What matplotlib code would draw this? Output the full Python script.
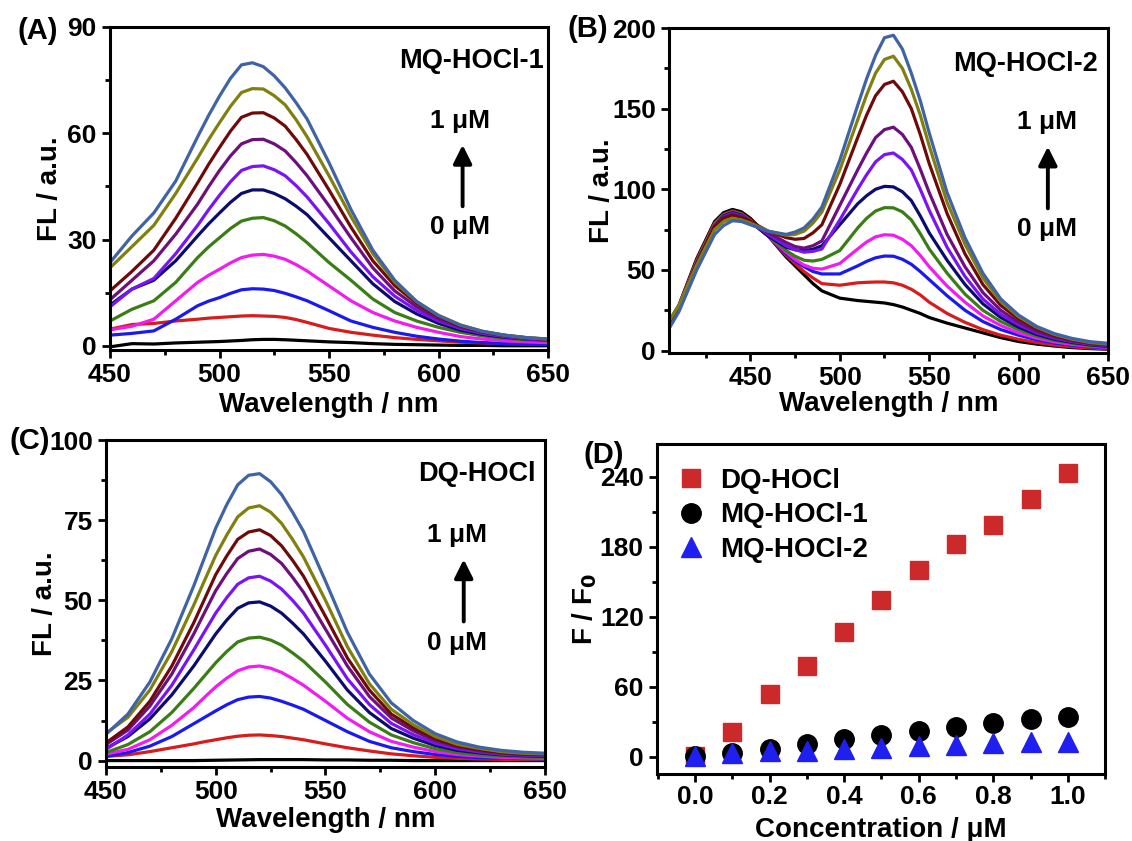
import numpy as np
import matplotlib
matplotlib.use('Agg')
import matplotlib.pyplot as plt
from matplotlib.ticker import MultipleLocator

plt.rcParams['font.family'] = ['Liberation Sans', 'DejaVu Sans']
plt.rcParams['font.weight'] = 'bold'
plt.rcParams['axes.labelweight'] = 'bold'
plt.rcParams['axes.linewidth'] = 2.2

# wavelengths (nm) for panels A and C, and for panel B
wl_ac = [450, 460, 470, 480, 490, 495, 500, 505, 510, 515, 520, 525, 530,
         535, 540, 550, 560, 570, 580, 590, 600, 610, 620, 630, 640, 650]
wl_b = [405, 410, 420, 430, 435, 440, 445, 450, 460, 470, 475, 480, 485, 490,
        500, 510, 515, 520, 525, 530, 535, 540, 545, 550,
        560, 570, 580, 590, 600, 610, 620, 630, 640, 650]

# one row per HOCl level, 0 -> 1 uM
fl_a = [
    [-0.3, 0.6, 0.5, 0.8, 1.0, 1.1, 1.2, 1.35, 1.5, 1.7, 1.8, 1.8, 1.7, 1.55, 1.4, 1.1, 0.9, 0.6, 0.4, 0.3, 0.2, 0.1, 0.1, 0.0, 0.0, 0.0],
    [4.7, 6.0, 6.3, 7.0, 7.5, 7.8, 8.0, 8.2, 8.4, 8.5, 8.4, 8.3, 8.0, 7.4, 6.6, 4.9, 3.8, 3.0, 2.3, 1.8, 1.4, 1.0, 0.8, 0.6, 0.5, 0.4],
    [3.0, 3.5, 4.2, 7.5, 11.3, 12.6, 13.6, 14.8, 15.8, 16.1, 16.0, 15.6, 14.8, 13.8, 12.7, 9.9, 7.0, 5.2, 3.8, 2.7, 1.9, 1.3, 0.9, 0.6, 0.4, 0.3],
    [4.5, 5.5, 7.5, 12.7, 17.9, 19.9, 21.6, 23.4, 24.9, 25.6, 25.8, 25.3, 24.4, 22.9, 21.1, 16.9, 12.7, 9.4, 7.0, 5.2, 3.8, 2.6, 1.9, 1.4, 1.1, 0.9],
    [7.0, 10.3, 12.7, 17.9, 24.9, 27.9, 30.5, 33.1, 35.2, 36.0, 36.2, 35.3, 33.8, 31.6, 29.1, 23.5, 18.5, 13.2, 9.4, 7.0, 5.2, 3.8, 2.8, 2.1, 1.7, 1.4],
    [11.5, 16.0, 18.5, 24.0, 31.0, 34.4, 37.5, 40.5, 43.0, 44.0, 44.0, 43.0, 41.5, 39.4, 37.0, 30.5, 24.0, 17.5, 12.5, 9.0, 6.3, 4.4, 3.2, 2.4, 1.9, 1.6],
    [11.0, 16.0, 19.0, 26.0, 34.0, 38.4, 42.5, 46.3, 49.5, 50.6, 50.8, 49.7, 48.0, 45.2, 42.0, 34.5, 26.5, 19.5, 14.0, 10.0, 7.0, 4.9, 3.5, 2.6, 2.0, 1.6],
    [13.0, 18.5, 24.0, 31.5, 40.0, 44.9, 49.5, 53.6, 57.0, 58.2, 58.3, 57.0, 55.0, 51.7, 48.0, 39.5, 30.5, 22.0, 15.5, 11.0, 7.6, 5.3, 3.8, 2.8, 2.1, 1.7],
    [15.5, 21.0, 27.0, 36.0, 46.0, 51.2, 56.0, 60.6, 64.5, 65.7, 65.8, 64.3, 62.0, 58.2, 54.0, 44.0, 33.5, 24.0, 17.0, 12.0, 8.2, 5.6, 4.0, 3.0, 2.3, 1.8],
    [22.0, 28.0, 34.0, 43.0, 53.0, 58.2, 63.0, 67.6, 71.5, 72.6, 72.5, 70.6, 68.0, 63.8, 59.0, 48.0, 36.5, 26.0, 18.0, 12.5, 8.6, 5.9, 4.1, 3.0, 2.3, 1.9],
    [23.5, 31.0, 37.5, 46.5, 59.0, 65.0, 70.5, 75.5, 79.3, 79.9, 78.8, 76.2, 72.8, 68.6, 64.0, 51.7, 38.5, 27.0, 18.5, 12.5, 8.5, 5.8, 4.1, 3.0, 2.3, 1.9],
]

fl_b = [
    [19, 28, 57, 80, 85.5, 87.5, 86, 82, 71, 58, 52.5, 47, 41.5, 37, 32.5, 31, 30.5, 30, 29.5, 28.5, 27, 25, 23, 20.5, 17, 14, 11, 8, 5.6, 4, 2.8, 1.8, 1.2, 0.8],
    [18.5, 27.5, 56, 79, 84.5, 86.5, 85, 81, 71, 59, 54, 49, 45, 41.5, 40.5, 42, 42.3, 42.5, 42.5, 42, 40.5, 38, 34.5, 30, 23, 17.5, 13, 9.5, 7, 5, 3.4, 2.3, 1.6, 1.1],
    [17.5, 27, 55, 78, 84, 86, 84.5, 80, 71, 60, 55.5, 52, 49, 47.5, 47.5, 52.5, 55.3, 57.5, 58.6, 58.5, 56.6, 53.5, 49, 44, 34, 25, 18, 13, 9.5, 6.7, 4.7, 3.3, 2.3, 1.6],
    [17.5, 27, 55, 78, 84, 86, 84.5, 80, 71, 61, 56.5, 53, 51, 50.5, 54, 63, 67.3, 70.5, 71.8, 71.5, 69, 65, 59, 52, 40, 30, 21.5, 15.5, 11, 7.7, 5.4, 3.8, 2.7, 2],
    [17, 26.5, 55, 78, 84, 86, 84.5, 80, 71, 62, 58.5, 56, 55.5, 56.5, 62, 76, 82, 86.5, 88.6, 88.5, 86, 81, 72.5, 63, 48, 35, 25, 18, 13, 9, 6.3, 4.5, 3.1, 2.3],
    [17, 26.5, 54, 77, 83.5, 85.5, 84, 80, 71, 64, 62.5, 62, 62.8, 65, 78, 91, 96, 100, 101.8, 101.5, 98.5, 93, 83.5, 73, 56, 41, 29, 20.5, 14.5, 10, 7, 5, 3.5, 2.6],
    [17, 26.5, 54, 77, 83, 85, 83.5, 80, 72, 65, 62.5, 61, 61.5, 63, 81, 100, 109, 117, 121.5, 122.5, 118.5, 112, 100, 87, 64, 46, 32, 22.5, 16, 11, 7.7, 5.5, 3.9, 3],
    [17, 26.5, 54, 77, 82.5, 84.5, 83, 80, 73, 67, 64.5, 63.5, 65, 68, 90, 112, 122.5, 132, 137, 138.5, 134, 126, 112.5, 98, 72, 52, 36, 25, 17.5, 12, 8.4, 6, 4.2, 3.2],
    [18, 27, 54, 77, 82, 84, 82.5, 80, 74, 70, 69, 69.5, 73, 78, 103, 132, 146, 158, 165, 167, 160.5, 150, 134, 116, 85, 60, 41, 28, 19.5, 13.5, 9.3, 6.5, 4.7, 3.8],
    [19, 28, 53, 75, 80, 82, 81, 79, 74, 71.5, 72, 74, 79, 86, 112, 143, 158.5, 172, 180.5, 182.5, 175, 162, 146, 127, 92, 66, 45, 30.5, 21, 14.5, 10, 7, 5, 4],
    [14.5, 24, 50, 72, 77.5, 80.5, 80, 78, 74, 72, 73.5, 76, 81.5, 89, 118, 152, 168.5, 183, 194, 195.5, 187, 172, 155, 135, 98, 70, 48, 32, 22, 15, 10.5, 7.5, 5.5, 4.5],
]

fl_c = [
    [0, 0, 0, 0, 0, 0.05, 0.1, 0.15, 0.2, 0.25, 0.3, 0.3, 0.3, 0.3, 0.3, 0.2, 0.2, 0.1, 0.1, 0, 0, 0, 0, 0, 0, 0],
    [1.3, 1.8, 2.8, 4, 5.2, 5.9, 6.5, 7.1, 7.6, 7.9, 8, 7.8, 7.5, 7.0, 6.5, 5.2, 4, 3, 2.1, 1.5, 1, 0.7, 0.5, 0.4, 0.3, 0.3],
    [1.3, 2.5, 4.5, 7.5, 11.5, 13.5, 15.5, 17.4, 19, 19.8, 20, 19.5, 18.5, 17.3, 16, 12.5, 9, 6, 4, 2.8, 1.9, 1.3, 0.9, 0.7, 0.6, 0.5],
    [2, 3.5, 6.5, 11, 16.5, 19.8, 23, 25.7, 28, 29.2, 29.5, 28.8, 27.5, 25.6, 23.5, 18.5, 13.2, 9, 6, 4.2, 2.8, 1.9, 1.4, 1, 0.8, 0.7],
    [2.5, 5, 9, 15, 22.5, 26.5, 30.5, 34, 37, 38.2, 38.5, 37.6, 36, 33.6, 31, 24.5, 17.5, 12, 8, 5.6, 3.7, 2.5, 1.8, 1.4, 1.1, 1],
    [3.8, 7.5, 13, 20.5, 29.5, 34.5, 39.5, 43.8, 47.5, 49.2, 49.5, 48.2, 46, 42.9, 39.5, 31, 22, 15, 10, 7, 4.7, 3.2, 2.4, 1.8, 1.5, 1.3],
    [3.5, 8, 14.5, 23.5, 34.5, 40.3, 46, 50.8, 55, 57, 57.5, 56, 53.5, 50, 46, 36, 25.5, 17.5, 11.6, 8.1, 5.4, 3.7, 2.7, 2, 1.7, 1.5],
    [5, 9.5, 17, 27, 39.5, 46.3, 53, 58.3, 63, 65.3, 66, 64.3, 61.5, 57.2, 52.5, 41, 29.5, 20, 13.3, 9.3, 6.2, 4.3, 3.1, 2.3, 1.9, 1.7],
    [5.5, 10.5, 18.5, 29.5, 43, 50.5, 58, 63.8, 69, 71.3, 72, 70.2, 67, 62.5, 57.5, 45, 32, 22, 14.5, 10.2, 6.8, 4.6, 3.4, 2.5, 2.1, 1.9],
    [8.5, 13.5, 22, 34, 48.5, 56.3, 64, 70.3, 76, 78.8, 79.5, 77.5, 74, 69, 63.5, 50, 35.5, 24, 16, 11.2, 7.5, 5.1, 3.8, 2.8, 2.3, 2.1],
    [8.2, 14.5, 24.5, 38, 54.5, 63.5, 72.5, 79.8, 86, 89, 89.5, 87, 83, 77.5, 71.5, 56, 40, 27, 18, 12.5, 8.4, 5.8, 4.2, 3.2, 2.6, 2.3],
]

# panel D, F/F0 vs HOCl concentration
conc = [0.0, 0.1, 0.2, 0.3, 0.4, 0.5, 0.6, 0.7, 0.8, 0.9, 1.0]
ratio_dq = [1, 21.7, 54, 78, 107, 134, 160, 182, 199, 221, 243]
ratio_mq1 = [0.5, 3.4, 6.8, 11, 15.5, 19, 22.5, 26, 29, 32.4, 34.4]
ratio_mq2 = [1, 3, 4.8, 5, 6.8, 7.6, 9, 10.4, 11.8, 12.7, 13.2]

line_colors = ['#000000', '#d81c1c', '#1a1af0', '#f01cf0', '#3a7d14', '#0c0c6e',
               '#7a14f5', '#6e0f7e', '#6e0a0a', '#80800f', '#3f63a5']

fig = plt.figure(figsize=(11.32, 8.41), dpi=100)
axA = fig.add_axes([0.0972, 0.5838, 0.3869, 0.3841])
axB = fig.add_axes([0.5910, 0.5803, 0.3878, 0.3864])
axC = fig.add_axes([0.0936, 0.0880, 0.3878, 0.3888])
axD = fig.add_axes([0.5804, 0.0797, 0.3958, 0.3924])


def style_axis(ax):
    ax.tick_params(which='both', direction='out', top=False, right=False,
                   labelsize=19, width=2)
    ax.tick_params(which='major', length=6)
    ax.tick_params(which='minor', length=3.5)


def spectra(ax, wl, rows, name, txt_x, arr_x, txt_pos):
    for row, c in zip(rows, line_colors):
        ax.plot(wl, row, color=c, lw=2.3, solid_joinstyle='round')
    style_axis(ax)
    ax.set_xticks([450, 500, 550, 600, 650])
    ax.xaxis.set_minor_locator(MultipleLocator(25))
    ax.set_xlabel('Wavelength / nm', fontsize=20, va='center')
    ax.set_ylabel('FL / a.u.', fontsize=20, va='center')
    ax.text(txt_pos[0], txt_pos[1], name, transform=ax.transAxes,
            fontsize=19.5, ha='center', va='center')
    ax.text(txt_x, 0.71, '1 μM', transform=ax.transAxes, fontsize=19,
            ha='center', va='center')
    ax.text(txt_x, 0.38, '0 μM', transform=ax.transAxes, fontsize=19,
            ha='center', va='center')
    ax.annotate('', xy=(arr_x, 0.635), xytext=(arr_x, 0.445),
                xycoords='axes fraction',
                arrowprops=dict(arrowstyle='-|>', color='k', lw=2.8,
                                mutation_scale=28, shrinkA=0, shrinkB=0))


spectra(axA, wl_ac, fl_a, 'MQ-HOCl-1', 0.80, 0.805, (0.826, 0.895))
axA.set_xlim(450, 650)
axA.set_ylim(-1.2, 90)
axA.set_yticks([0, 30, 60, 90])
axA.yaxis.set_minor_locator(MultipleLocator(15))
axA.xaxis.set_label_coords(0.5, -0.17)
axA.yaxis.set_label_coords(-0.137, 0.5)

spectra(axB, wl_b, fl_b, 'MQ-HOCl-2', 0.86, 0.863, (0.811, 0.889))
axB.set_xlim(404.5, 650)
axB.set_ylim(-1.5, 200)
axB.set_yticks([0, 50, 100, 150, 200])
axB.yaxis.set_minor_locator(MultipleLocator(25))
axB.xaxis.set_label_coords(0.5, -0.157)
axB.yaxis.set_label_coords(-0.153, 0.5)

spectra(axC, wl_ac, fl_c, 'DQ-HOCl', 0.80, 0.815, (0.844, 0.896))
axC.set_xlim(450, 650)
axC.set_ylim(-2, 100)
axC.set_yticks([0, 25, 50, 75, 100])
axC.yaxis.set_minor_locator(MultipleLocator(12.5))
axC.xaxis.set_label_coords(0.5, -0.162)
axC.yaxis.set_label_coords(-0.139, 0.5)

# panel D
axD.plot(conc, ratio_dq, 's', color='#cc2a2a', ms=13, label='DQ-HOCl')
axD.plot(conc, ratio_mq1, 'o', color='black', ms=14, label='MQ-HOCl-1')
axD.plot(conc, ratio_mq2, '^', color='#1f1ff0', ms=15, label='MQ-HOCl-2')
style_axis(axD)
axD.tick_params(axis='x', pad=2)
axD.set_xlim(-0.102, 1.1)
axD.set_ylim(-14.6, 268)
axD.set_xticks([0.0, 0.2, 0.4, 0.6, 0.8, 1.0])
axD.xaxis.set_minor_locator(MultipleLocator(0.1))
axD.set_yticks([0, 60, 120, 180, 240])
axD.yaxis.set_minor_locator(MultipleLocator(30))
axD.set_xlabel('Concentration / μM', fontsize=20, va='center')
axD.set_ylabel(r'F / F$_\mathbf{0}$', fontsize=20, va='center')
axD.xaxis.set_label_coords(0.5, -0.17)
axD.yaxis.set_label_coords(-0.162, 0.5)
axD.legend(loc='upper left', bbox_to_anchor=(0.044, 0.927), frameon=False,
           fontsize=20, handlelength=1.0, handletextpad=0.55,
           labelspacing=0.3, borderaxespad=0, borderpad=0)

# panel letters
for lbl, x, y in [('(A)', 0.0336, 0.963), ('(B)', 0.519, 0.965),
                  ('(C)', 0.026, 0.476), ('(D)', 0.533, 0.459)]:
    fig.text(x, y, lbl, fontsize=21, ha='center', va='center')

fig.savefig('out.png', dpi=100)
